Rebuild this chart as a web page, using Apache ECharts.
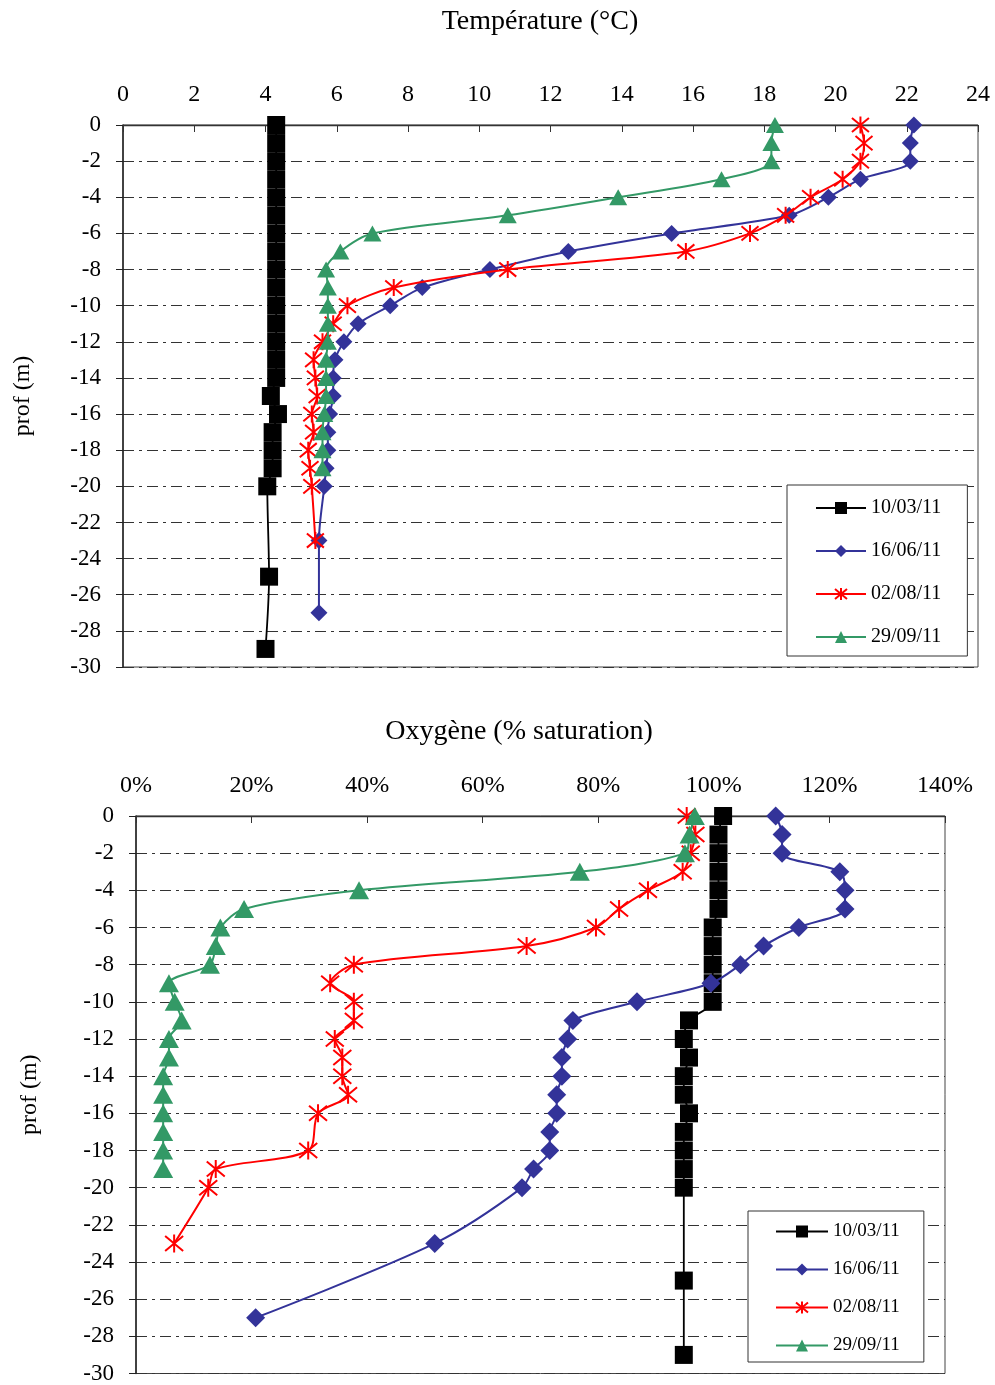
<!DOCTYPE html>
<html>
<head>
<meta charset="utf-8">
<title>Température et oxygène</title>
<script src="https://cdn.jsdelivr.net/npm/echarts@6/dist/echarts.min.js"></script>
<style>
    html, body { margin: 0; padding: 0; background: #fff; }
    #chart { width: 995px; height: 1385px; }
</style>
</head>
<body>
<div id="chart"></div>
<script>
// series names (dates de mesure)
var dates = ['10/03/11', '16/06/11', '02/08/11', '29/09/11'];

// profondeurs (m)
var depthMars = [0, -1, -2, -3, -4, -5, -6, -7, -8, -9, -10, -11, -12, -13, -14, -15, -16, -17, -18, -19, -20, -25, -29];
var depthJuin = [0, -1, -2, -3, -4, -5, -6, -7, -8, -9, -10, -11, -12, -13, -14, -15, -16, -17, -18, -19, -20, -23, -27];
var depthAout = [0, -1, -2, -3, -4, -5, -6, -7, -8, -9, -10, -11, -12, -13, -14, -15, -16, -17, -18, -19, -20, -23];
var depthAoutOxy = [0, -1, -2, -3, -4, -5, -6, -7, -8, -9, -10, -11, -12, -13, -14, -15, -16, -18, -19, -20, -23];
var depthSept = [0, -1, -2, -3, -4, -5, -6, -7, -8, -9, -10, -11, -12, -13, -14, -15, -16, -17, -18, -19];

// température (°C)
var tempMars = [4.3, 4.3, 4.3, 4.3, 4.3, 4.3, 4.3, 4.3, 4.3, 4.3, 4.3, 4.3, 4.3, 4.3, 4.3, 4.15, 4.35, 4.2, 4.2, 4.2, 4.05, 4.1, 4.0];
var tempJuin = [22.2, 22.1, 22.1, 20.7, 19.8, 18.7, 15.4, 12.5, 10.3, 8.4, 7.5, 6.6, 6.2, 5.95, 5.9, 5.9, 5.8, 5.75, 5.75, 5.7, 5.65, 5.5, 5.5];
var tempAout = [20.7, 20.8, 20.7, 20.2, 19.3, 18.6, 17.6, 15.8, 10.8, 7.6, 6.3, 5.9, 5.6, 5.35, 5.4, 5.45, 5.3, 5.35, 5.2, 5.25, 5.3, 5.4];
var tempSept = [18.3, 18.2, 18.2, 16.8, 13.9, 10.8, 7.0, 6.1, 5.7, 5.75, 5.75, 5.75, 5.75, 5.7, 5.7, 5.7, 5.65, 5.6, 5.6, 5.6];

// oxygène (% saturation)
var oxyMars = [101.6, 100.8, 100.8, 100.8, 100.8, 100.8, 99.8, 99.8, 99.8, 99.8, 99.8, 95.7, 94.8, 95.7, 94.8, 94.8, 95.7, 94.8, 94.8, 94.8, 94.8, 94.8, 94.8];
var oxyJuin = [110.7, 111.8, 111.8, 121.8, 122.7, 122.7, 114.7, 108.6, 104.6, 99.5, 86.7, 75.6, 74.7, 73.7, 73.7, 72.8, 72.8, 71.6, 71.6, 68.8, 66.8, 51.7, 20.7];
var oxyAout = [95.3, 96.8, 96.0, 94.6, 88.6, 83.6, 79.6, 67.6, 37.7, 33.6, 37.7, 37.7, 34.4, 35.7, 35.7, 36.7, 31.5, 29.8, 13.8, 12.5, 6.6];
var oxySept = [96.7, 95.8, 95.0, 76.8, 38.6, 18.7, 14.6, 13.8, 12.8, 5.7, 6.7, 7.9, 5.7, 5.7, 4.7, 4.7, 4.7, 4.7, 4.7, 4.7];

var serif = '"Liberation Serif", "DejaVu Serif", serif';
var starPath = 'path://M0,0L10,10M0,10L10,0M5,-1L5,11';

var colors = ['#000000', '#333399', '#FF0000', '#339966'];
var symbols = ['rect', 'diamond', starPath, 'triangle'];

function pairs(values, depths) {
    return values.map(function (v, i) {
        return [v, depths[i]];
    });
}

function makeSeries(idx, data, axisIndex, sizes) {
    var c = colors[idx];
    var s = {
        name: dates[idx],
        type: 'line',
        xAxisIndex: axisIndex,
        yAxisIndex: axisIndex,
        data: data,
        smooth: 0.3,
        symbol: symbols[idx],
        symbolSize: sizes[idx],
        showAllSymbol: true,
        lineStyle: { color: c, width: idx === 0 ? 1.8 : 2 },
        itemStyle: { color: c, opacity: 1 },
        emphasis: { disabled: true },
        animation: false,
        z: 2 + idx
    };
    if (idx === 2) {
        s.itemStyle = { color: c, borderColor: c, borderWidth: 2 };
    }
    return s;
}

function gridLine() {
    return { show: true, lineStyle: { color: '#333', width: 1, type: [11, 5, 3, 5] } };
}

function xAxis(gridIndex, max, interval, fmt) {
    return {
        type: 'value',
        gridIndex: gridIndex,
        position: 'top',
        min: 0,
        max: max,
        interval: interval,
        axisLine: { show: true, lineStyle: { color: '#333', width: 1.3 } },
        axisTick: { show: true, inside: true, length: 7, lineStyle: { color: '#333' } },
        axisLabel: { color: '#000', fontFamily: serif, fontSize: 24, margin: 18, formatter: fmt },
        splitLine: { show: false }
    };
}

function yAxis(gridIndex, nameGap) {
    return {
        type: 'value',
        gridIndex: gridIndex,
        min: -30,
        max: 0,
        interval: 2,
        name: 'prof (m)',
        nameLocation: 'middle',
        nameRotate: 90,
        nameGap: nameGap,
        nameTextStyle: { color: '#000', fontFamily: serif, fontSize: 24 },
        axisLine: { show: true, onZero: false, lineStyle: { color: '#222', width: 1.5 } },
        axisTick: { show: true, length: 7, lineStyle: { color: '#222' } },
        axisLabel: { color: '#000', fontFamily: serif, fontSize: 23, margin: 22 },
        splitLine: gridLine()
    };
}

function legend(left, top, pad, gap, width, fontSize) {
    return {
        orient: 'vertical',
        left: left,
        top: top,
        padding: pad,
        itemGap: gap,
        itemWidth: width,
        itemHeight: 15,
        borderColor: '#333',
        borderWidth: 1,
        backgroundColor: '#fff',
        selectedMode: false,
        data: dates,
        textStyle: { color: '#000', fontFamily: serif, fontSize: fontSize }
    };
}

var topSizes = [18, 17, [17, 17], [18, 16]];
var botSizes = [18, 19, [18, 18], [20, 18]];

var chart = echarts.init(document.getElementById('chart'), null, { renderer: 'canvas' });
chart.setOption({
    backgroundColor: '#fff',
    animation: false,
    title: [
        {
            text: 'Température (°C)',
            left: 540, top: 8, padding: 0, textAlign: 'center',
            textStyle: { color: '#000', fontFamily: serif, fontSize: 28, fontWeight: 'normal' }
        },
        {
            text: 'Oxygène (% saturation)',
            left: 519, top: 718, padding: 0, textAlign: 'center',
            textStyle: { color: '#000', fontFamily: serif, fontSize: 28, fontWeight: 'normal' }
        }
    ],
    grid: [
        { left: 123, top: 125, width: 855, height: 542, show: true, borderColor: '#444', borderWidth: 1, backgroundColor: 'transparent' },
        { left: 136, top: 816, width: 809, height: 558, show: true, borderColor: '#444', borderWidth: 1, backgroundColor: 'transparent' }
    ],
    xAxis: [
        xAxis(0, 24, 2, null),
        xAxis(1, 140, 20, function (v) { return v + '%'; })
    ],
    yAxis: [
        yAxis(0, 88),
        yAxis(1, 94)
    ],
    legend: [
        legend(787, 485, [13, 26, 9, 28], 23, 50, 20),
        legend(748, 1211, [11, 24, 7, 27], 19, 52, 19)
    ],
    series: [
        makeSeries(0, pairs(tempMars, depthMars), 0, topSizes),
        makeSeries(1, pairs(tempJuin, depthJuin), 0, topSizes),
        makeSeries(2, pairs(tempAout, depthAout), 0, topSizes),
        makeSeries(3, pairs(tempSept, depthSept), 0, topSizes),
        makeSeries(0, pairs(oxyMars, depthMars), 1, botSizes),
        makeSeries(1, pairs(oxyJuin, depthJuin), 1, botSizes),
        makeSeries(2, pairs(oxyAout, depthAoutOxy), 1, botSizes),
        makeSeries(3, pairs(oxySept, depthSept), 1, botSizes)
    ]
});
</script>
</body>
</html>
